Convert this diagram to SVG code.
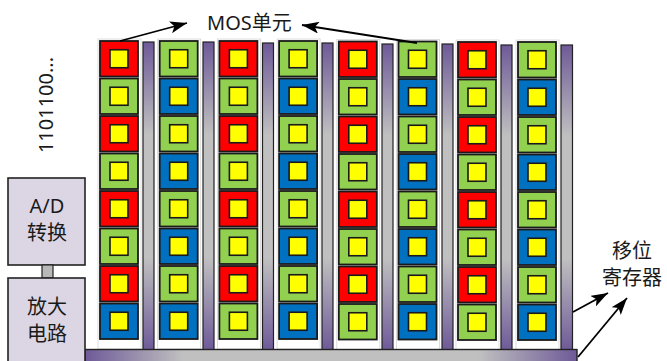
<svg xmlns="http://www.w3.org/2000/svg" width="667" height="361" viewBox="0 0 667 361">
<style>
.r{fill:#ff0000}.g{fill:#92d050}.b{fill:#0070c0}
.c{stroke:#1a1a1a;stroke-width:1.8}
.y{fill:#ffff00;stroke:#1a1a1a;stroke-width:1.6}
.bar{fill:url(#vg);stroke:#222;stroke-width:1.2}
.strip{fill:#fff;stroke:#d4d4d4;stroke-width:0.8}
.box{fill:#dcd6e4;stroke:#222;stroke-width:1.6}
.t{font-family:"Noto Sans","Noto Sans CJK SC",sans-serif;font-size:20px;fill:#1a1a1a}
.m{text-anchor:middle}
.ar{fill:none;stroke:#000;stroke-width:1.8}
</style>
<defs>
<linearGradient id="vg" x1="0" y1="0" x2="0" y2="1">
<stop offset="0" stop-color="#6e5a98"/><stop offset="0.3" stop-color="#c0c0c0"/><stop offset="0.7" stop-color="#c0c0c0"/><stop offset="1" stop-color="#6e5a98"/>
</linearGradient>
<linearGradient id="hg" x1="0" y1="0" x2="1" y2="0">
<stop offset="0" stop-color="#6e5a98"/><stop offset="0.2" stop-color="#c0c0c0"/><stop offset="0.8" stop-color="#c0c0c0"/><stop offset="1" stop-color="#6e5a98"/>
</linearGradient>
<marker id="ah" markerUnits="userSpaceOnUse" markerWidth="18" markerHeight="12" refX="17" refY="6" orient="auto">
<path d="M0,0 L17,6 L0,12 L4,6 z" fill="#000"/>
</marker>
<g id="cr"><rect class="c r" width="38" height="35.5"/><rect class="y" x="10" y="8.75" width="18" height="18"/></g>
<g id="cg"><rect class="c g" width="38" height="35.5"/><rect class="y" x="10" y="8.75" width="18" height="18"/></g>
<g id="cb"><rect class="c b" width="38" height="35.5"/><rect class="y" x="10" y="8.75" width="18" height="18"/></g>
<g id="colA">
<rect class="strip" x="-2" y="-2" width="43" height="310"/>
<use href="#cr" y="0"/><use href="#cg" y="37.5"/><use href="#cr" y="75"/><use href="#cg" y="112.5"/><use href="#cr" y="150"/><use href="#cg" y="187.5"/><use href="#cr" y="225"/><use href="#cg" y="262.5"/>
</g>
<g id="colB">
<rect class="strip" x="-2" y="-2" width="43" height="310"/>
<use href="#cg" y="0"/><use href="#cb" y="37.5"/><use href="#cg" y="75"/><use href="#cb" y="112.5"/><use href="#cg" y="150"/><use href="#cb" y="187.5"/><use href="#cg" y="225"/><use href="#cb" y="262.5"/>
</g>
</defs>
<rect width="667" height="361" fill="#fff"/>

<g id="registers">
<rect class="bar" x="143" y="42" width="11" height="308"/>
<rect class="bar" x="203" y="42" width="11" height="308"/>
<rect class="bar" x="262.5" y="43" width="11" height="307"/>
<rect class="bar" x="322" y="43" width="11" height="307"/>
<rect class="bar" x="382" y="44" width="11" height="306"/>
<rect class="bar" x="442" y="44" width="11" height="306"/>
<rect class="bar" x="501" y="45" width="11" height="305"/>
<rect class="bar" x="561" y="45" width="11.5" height="305"/>
</g>

<g id="mos-array">
<g id="col1" transform="translate(100,41)">
<rect class="strip" x="-2" y="-2" width="43" height="310"/>
<use href="#cr" y="0"/><use href="#cg" y="37.5"/><use href="#cr" y="75"/><use href="#cg" y="112.5"/><use href="#cr" y="150"/><use href="#cg" y="187.5"/><use href="#cr" y="225"/><use href="#cb" y="262.5"/>
</g>
<use id="col2" href="#colB" transform="translate(159.7,41)"/>
<use id="col3" href="#colA" transform="translate(219.4,41)"/>
<use id="col4" href="#colB" transform="translate(279.1,41)"/>
<use id="col5" href="#colA" transform="translate(338.8,41.5)"/>
<use id="col6" href="#colB" transform="translate(398.5,41.5)"/>
<use id="col7" href="#colA" transform="translate(458,42)"/>
<use id="col8" href="#colB" transform="translate(518,42)"/>
</g>

<g id="base">
<rect x="85" y="349.5" width="492" height="14" fill="url(#hg)" stroke="#222" stroke-width="1.4"/>
</g>

<g id="ad">
<rect class="box" x="8" y="178" width="77" height="87"/>
<text class="t m" x="47" y="213">A/D</text>
<text class="t m" x="47" y="240">转换</text>
</g>
<g id="link">
<rect x="42" y="265" width="11" height="13" fill="#b8b8b8" stroke="#222" stroke-width="1.2"/>
</g>
<g id="amp">
<rect class="box" x="8" y="278" width="77" height="90"/>
<text class="t m" x="47" y="314">放大</text>
<text class="t m" x="47" y="341">电路</text>
</g>

<g id="labels">
<text class="t m" transform="translate(53,105) rotate(-90)">1101100...</text>
<text class="t" x="207" y="30" font-size="21">MOS单元</text>
<text class="t m" x="632" y="258">移位</text>
<text class="t m" x="632" y="285">寄存器</text>
</g>

<g id="connectors">
<line class="ar" x1="120" y1="41" x2="187" y2="23" marker-end="url(#ah)"/>
<line class="ar" x1="417" y1="43" x2="302" y2="25" marker-end="url(#ah)"/>
<line class="ar" x1="573" y1="312" x2="608" y2="293" marker-end="url(#ah)"/>
<line class="ar" x1="578" y1="357" x2="627" y2="298" marker-end="url(#ah)"/>
</g>
</svg>
